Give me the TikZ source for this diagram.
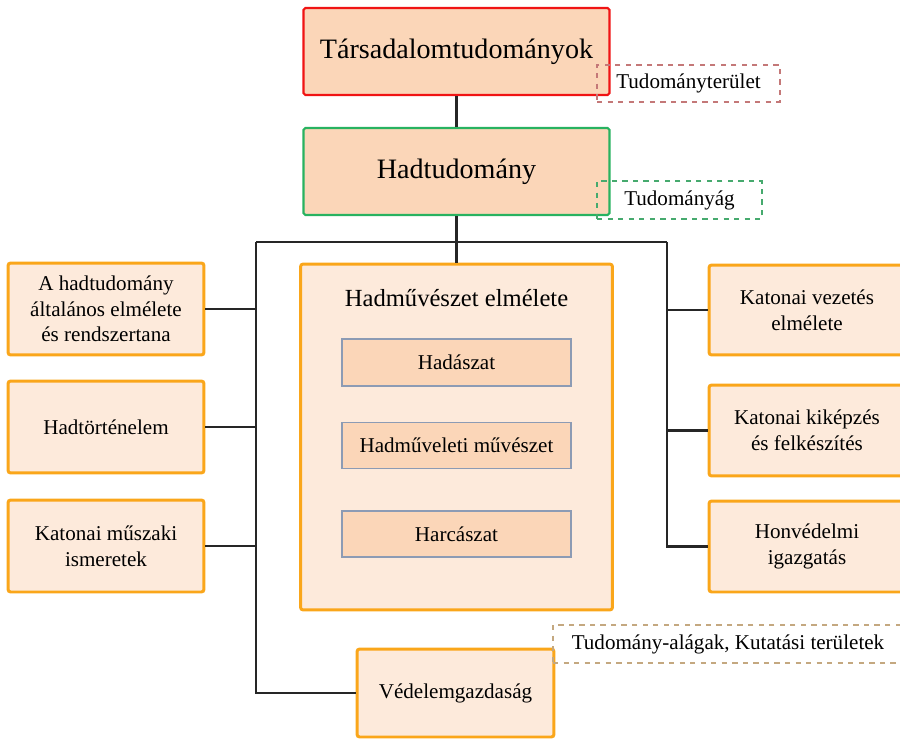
\documentclass[tikz,border=0pt]{standalone}
\usepackage{fontspec}
\setmainfont{Liberation Serif}
\usepackage{tikz}
\usetikzlibrary{positioning}
\definecolor{peach}{RGB}{251,214,184}
\definecolor{lightpeach}{RGB}{253,234,219}
\definecolor{borange}{RGB}{250,166,26}
\definecolor{bred}{RGB}{240,20,20}
\definecolor{bgreen}{RGB}{40,178,96}
\definecolor{bblue}{RGB}{140,155,180}
\definecolor{dred}{RGB}{196,120,120}
\definecolor{dgreen}{RGB}{70,170,110}
\definecolor{dtan}{RGB}{196,168,128}
\tikzstyle{top}=[draw,rectangle,fill=peach,line width=1.2pt,rounded corners=1pt,minimum width=6.12cm,minimum height=1.74cm,font=\fontsize{16}{19}\selectfont]
\tikzstyle{side}=[draw=borange,rectangle,fill=lightpeach,line width=1.7pt,rounded corners=1.5pt,minimum width=3.92cm,minimum height=1.84cm,align=center,font=\fontsize{12}{14.6}\selectfont]
\tikzstyle{inner}=[draw=bblue,rectangle,fill=peach,line width=0.9pt,minimum width=4.58cm,minimum height=0.92cm,font=\fontsize{12}{14}\selectfont]
\tikzstyle{tag}=[rectangle,dashed,line width=0.9pt,font=\fontsize{12}{14}\selectfont]
\tikzstyle{link}=[line width=1.4pt,black!85]

\begin{document}
\begin{tikzpicture}[x=0.02cm,y=-0.02cm]
  \useasboundingbox (0,0) rectangle (900,740);
  % upper levels
  \node[top,draw=bred] (tars) at (456.5,51.5) {Társadalomtudományok};
  \node[top,draw=bgreen] (hadtud) at (456.5,171.5) {Hadtudomány};
  % central block
  \node[side,minimum width=6.24cm,minimum height=6.92cm] (elm) at (456.5,437) {};
  \node[font=\fontsize{14}{16}\selectfont] (elmtitle) at (456.5,298) {Hadművészet elmélete};
  \node[inner,minimum height=0.94cm] (hadaszat) at (456.5,362.5) {Hadászat};
  \node[inner] (hadmuv) at (456.5,445.5) {Hadműveleti művészet};
  \node[inner] (harc) at (456.5,534) {Harcászat};
  % left column
  \node[side] (altal) at (106,309) {A hadtudomány\\általános elmélete\\és rendszertana};
  \node[side] (hadtort) at (106,427) {Hadtörténelem};
  \node[side] (muszaki) at (106,546) {Katonai műszaki\\ismeretek};
  % right column
  \node[side,minimum height=1.8cm] (vezetes) at (807,310) {Katonai vezetés\\elmélete};
  \node[side,minimum height=1.82cm] (kikepzes) at (807,430.5) {Katonai kiképzés\\és felkészítés};
  \node[side,minimum height=1.82cm] (honv) at (807,546.5) {Honvédelmi\\igazgatás};
  % bottom
  \node[side,minimum width=3.94cm,minimum height=1.76cm] (veda) at (455.5,693) {Védelemgazdaság};
  % bus lines
  \coordinate (busL) at (256,242);
  \coordinate (busR) at (667,242);
  \draw[link] (tars) -- (hadtud);
  \draw[link] (hadtud) -- (elm);
  \draw[link] (busL) -- (busR);
  \draw[link] (busL) |- (veda);
  \draw[link] (busR) |- (honv);
  \draw[link] (altal.east) -- (altal.east -| busL);
  \draw[link] (hadtort.east) -- (hadtort.east -| busL);
  \draw[link] (muszaki.east) -- (muszaki.east -| busL);
  \draw[link] (vezetes.west) -- (vezetes.west -| busR);
  \draw[link] (kikepzes.west) -- (kikepzes.west -| busR);
  % level tags
  \node[tag,draw=dred,minimum width=3.66cm,minimum height=0.74cm] (terulet) at (688.5,83.5) {Tudományterület};
  \node[tag,draw=dgreen,minimum width=3.3cm,minimum height=0.76cm] (ag) at (679.5,200) {Tudományág};
  \node[tag,draw=dtan,minimum width=7cm,minimum height=0.76cm] (alag) at (728,644) {Tudomány-alágak, Kutatási területek};
\end{tikzpicture}
\end{document}
